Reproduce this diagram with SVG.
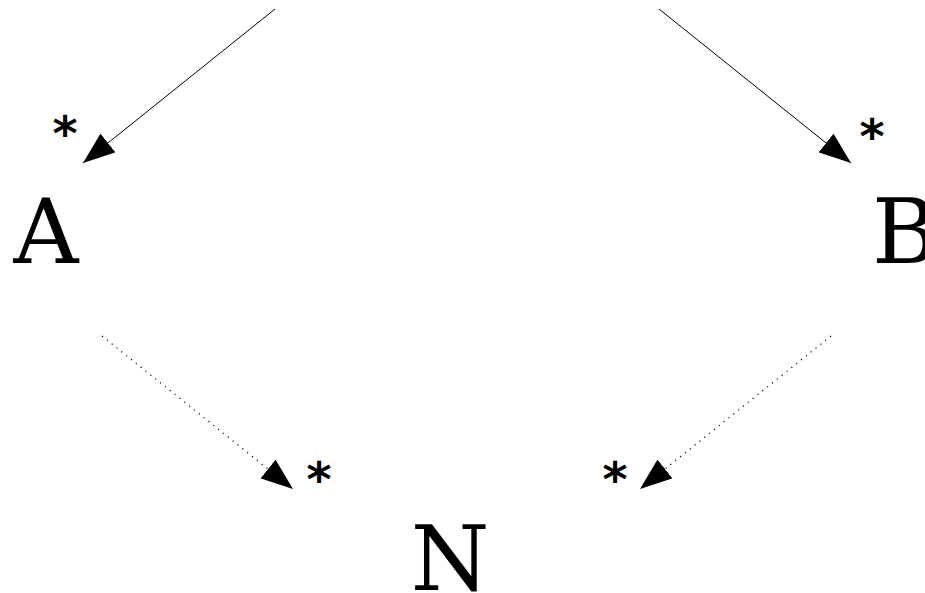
<svg xmlns="http://www.w3.org/2000/svg" width="925" height="593" viewBox="0 0 925 593">
<style>
.lbl{font-family:"DejaVu Serif",serif;font-size:90px;fill:#000}
.mul{font-family:"DejaVu Sans",sans-serif;font-size:48px;font-weight:bold;fill:#000}
.edge{stroke:#000;stroke-width:1;fill:none}
.dot{stroke:#000;stroke-width:1.2;fill:none;stroke-dasharray:1.2 5}
</style>
<defs>
<marker id="ah" viewBox="0 0 32 24" refX="32" refY="12" markerWidth="32" markerHeight="24" markerUnits="userSpaceOnUse" orient="auto">
<path d="M0,0 L32,12 L0,24 z" fill="#000"/>
</marker>
</defs>
<rect width="925" height="593" fill="#fff"/>
<g id="connectors">
<line class="edge" x1="275" y1="9" x2="83" y2="163" marker-end="url(#ah)"/>
<line class="edge" x1="659" y1="9" x2="851" y2="163" marker-end="url(#ah)"/>
<line class="dot" x1="102" y1="336" x2="293" y2="489" marker-end="url(#ah)"/>
<line class="dot" x1="831" y1="336" x2="640" y2="489" marker-end="url(#ah)"/>
<text class="mul" x="65" y="150" text-anchor="middle">*</text>
<text class="mul" x="872" y="153" text-anchor="middle">*</text>
<text class="mul" x="319" y="496" text-anchor="middle">*</text>
<text class="mul" x="615" y="496" text-anchor="middle">*</text>
</g>
<g id="A"><text class="lbl" x="46" y="263" text-anchor="middle">A</text></g>
<g id="B"><text class="lbl" x="872" y="263">B</text></g>
<g id="N"><text class="lbl" x="450" y="590" text-anchor="middle">N</text></g>
</svg>
